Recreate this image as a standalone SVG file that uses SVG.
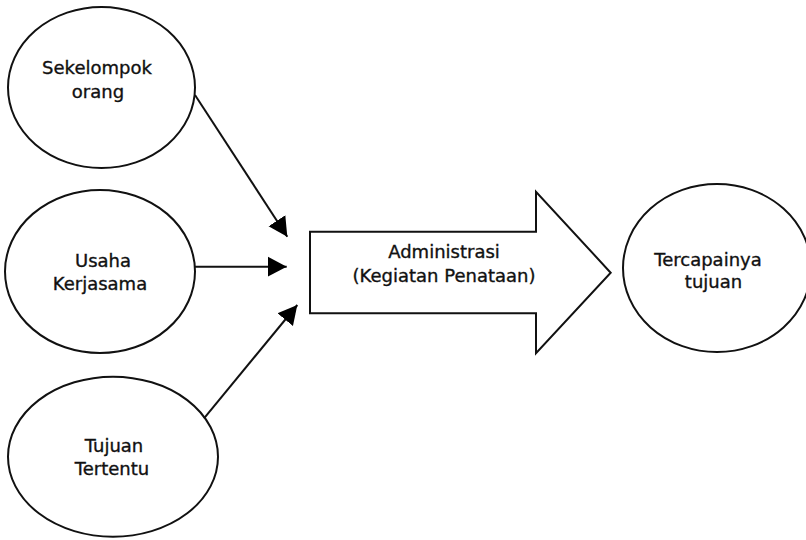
<svg xmlns="http://www.w3.org/2000/svg" width="806" height="540" viewBox="0 0 806 540">
<style>
.shape{fill:#fff;stroke:#111;stroke-width:2}
.lbl{font-family:"DejaVu Sans","Verdana",sans-serif;font-size:18px;fill:#111;stroke:#111;stroke-width:0.35;text-anchor:middle}
.conn{stroke:#111;stroke-width:2;fill:none}
</style>
<defs>
<marker id="ah" markerUnits="userSpaceOnUse" markerWidth="20" markerHeight="22" refX="19" refY="10" orient="auto" viewBox="0 0 20 20">
<path d="M0,0 L19,10 L0,20 z" fill="#000"/>
</marker>
</defs>
<rect width="806" height="540" fill="#fff"/>
<g id="n-sekelompok">
<ellipse class="shape" cx="101.5" cy="87.5" rx="93.5" ry="80.5"/>
<text class="lbl" x="97" y="74">Sekelompok</text>
<text class="lbl" x="98" y="98">orang</text>
</g>
<g id="n-usaha">
<ellipse class="shape" cx="100" cy="271.5" rx="95" ry="81.5"/>
<text class="lbl" x="103" y="266.5">Usaha</text>
<text class="lbl" x="100" y="290">Kerjasama</text>
</g>
<g id="n-tujuan">
<ellipse class="shape" cx="113" cy="456.7" rx="105" ry="80"/>
<text class="lbl" x="114" y="451.5">Tujuan</text>
<text class="lbl" x="112" y="475">Tertentu</text>
</g>
<g id="n-administrasi">
<path class="shape" d="M310,231.7 L536,231.7 L536,191.7 L610.7,272.7 L536,353.3 L536,313.3 L310,313.3 Z"/>
<text class="lbl" x="444" y="258.3">Administrasi</text>
<text class="lbl" x="444" y="281.7">(Kegiatan Penataan)</text>
</g>
<g id="n-tercapai">
<ellipse class="shape" cx="717" cy="268" rx="94" ry="84"/>
<text class="lbl" x="708" y="266">Tercapainya</text>
<text class="lbl" x="713.5" y="288">tujuan</text>
</g>
<g id="connectors">
<line class="conn" x1="195" y1="95" x2="287.3" y2="236.7" marker-end="url(#ah)"/>
<line class="conn" x1="195" y1="266.7" x2="286.7" y2="266.7" marker-end="url(#ah)"/>
<line class="conn" x1="204" y1="418.3" x2="297.3" y2="305" marker-end="url(#ah)"/>
</g>
</svg>
